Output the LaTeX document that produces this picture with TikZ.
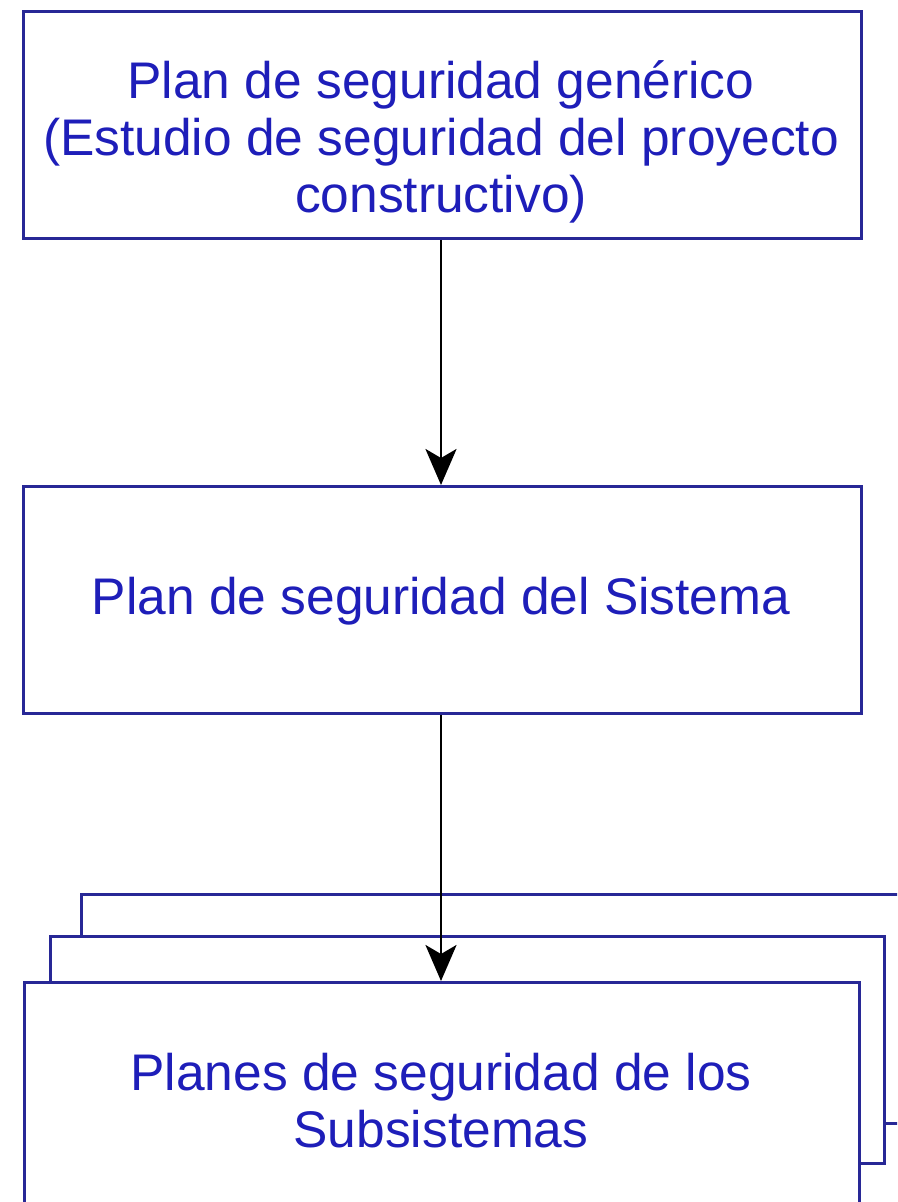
\documentclass[tikz,border=0pt]{standalone}
\usepackage{fontspec}
\setmainfont{Liberation Sans}
\usetikzlibrary{arrows.meta}
\definecolor{boxline}{RGB}{40,40,150}
\definecolor{boxtext}{RGB}{30,30,185}
\begin{document}
\begin{tikzpicture}[x=1pt,y=-1pt,
  box/.style={draw=boxline,line width=2.8pt,fill=white,inner sep=0pt,anchor=north west},
  lbl/.style={text=boxtext,align=center,inner sep=0pt,font=\fontsize{51.5}{57}\selectfont},
  conn/.style={line width=2.8pt,-{Stealth[length=36pt,width=31pt,inset=9pt]}}]
\useasboundingbox (0,0) rectangle (897,1202);
\clip (0,0) rectangle (897,1202);
\node[box,minimum width=838pt,minimum height=227pt] (gen) at (22,10) {};
\node[lbl] (gentxt) at (441,142)
  {Plan de seguridad genérico\\(Estudio de seguridad del proyecto\\constructivo)};
\node[box,minimum width=838pt,minimum height=227pt] (sis) at (22,485) {};
\node[lbl] (sistxt) at (441,601) {Plan de seguridad del Sistema};
\node[box,minimum width=860pt,minimum height=229pt] (back) at (80,893) {};
\node[box,minimum width=834pt,minimum height=227pt] (mid) at (49,935) {};
\node[box,minimum width=835pt,minimum height=260pt] (sub) at (23,981) {};
\node[lbl] (subtxt) at (441,1101) {Planes de seguridad de los\\Subsistemas};
\draw[conn] (gen.south -| 441,0) -- (sis.north -| 441,0);
\draw[conn] (sis.south -| 441,0) -- (sub.north -| 441,0);
\end{tikzpicture}
\end{document}
